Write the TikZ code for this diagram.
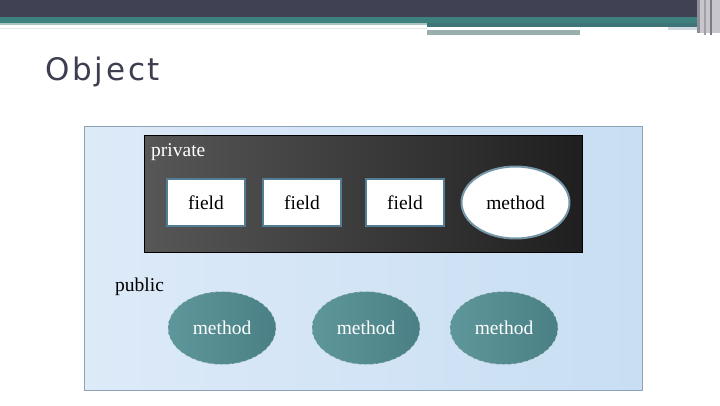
\documentclass[tikz,border=0pt]{standalone}
\usepackage{fontspec}
\setmainfont{Liberation Serif}
\newfontfamily\titlefont{DejaVu Sans}[LetterSpace=9]
\usetikzlibrary{shapes.geometric}
\definecolor{hdrdark}{HTML}{404254}
\definecolor{hdrteal}{HTML}{3D807E}
\definecolor{hdrteal2}{HTML}{3E7478}
\definecolor{hdrlight}{HTML}{A9C3C0}
\definecolor{titlecol}{HTML}{3D3F51}
\definecolor{outerA}{HTML}{DDEAF8}
\definecolor{outerB}{HTML}{C8DEF3}
\definecolor{outerline}{HTML}{8CA3B8}
\definecolor{darkA}{HTML}{575757}
\definecolor{darkB}{HTML}{1F1F1F}
\definecolor{fieldline}{HTML}{527D92}
\definecolor{pubA}{HTML}{5E979B}
\definecolor{pubB}{HTML}{4A8085}
\tikzset{
  txt/.style={font=\fontsize{19.5}{22}\selectfont, inner sep=0pt},
  fieldbox/.style={draw=fieldline, line width=2pt, fill=white, minimum width=78pt, minimum height=47pt, txt},
  privmeth/.style={ellipse, draw=fieldline!80, line width=2pt, fill=white, minimum width=108pt, minimum height=72pt, txt},
  pubmeth/.style={ellipse, left color=pubA, right color=pubB, draw=white!70!pubA, dashed, line width=0.6pt, minimum width=108pt, minimum height=73pt, txt, text=white},
}
\begin{document}
\begin{tikzpicture}[x=1pt,y=-1pt]
\useasboundingbox (0,0) rectangle (720,405);
\fill[white] (0,0) rectangle (720,405);
% header
\fill[hdrdark] (0,0) rectangle (697,17);
\fill[hdrteal] (0,17) rectangle (697,23);
\fill[hdrlight] (0,23) rectangle (427,25);
\fill[hdrteal2] (427,23) rectangle (697,27);
\fill[black!10] (0,28) rectangle (427,29);
\fill[hdrlight!90!black] (427,30) rectangle (580,35);
\fill[white!60!outerline] (668,27) rectangle (697,30);
\fill[white!70!hdrdark] (697,0) rectangle (720,33);
\fill[white!40!hdrdark] (697,0) rectangle (700,33);
\fill[white!50!hdrdark] (704,0) rectangle (706,35);
\fill[white!30!hdrdark] (710,0) rectangle (712,35);
% title
\node[anchor=base west, inner sep=0pt, text=titlecol] (title) at (45,80) {\titlefont\fontsize{31}{34}\selectfont Object};
% outer box
\node[draw=outerline, line width=0.8pt, left color=outerA, right color=outerB, minimum width=558pt, minimum height=264pt, inner sep=0pt] (outer) at (363,258) {};
% private box
\node[draw=black, line width=0.8pt, left color=darkA, right color=darkB, minimum width=438pt, minimum height=117pt, inner sep=0pt] (priv) at (363,193.5) {};
\node[txt, anchor=base west, text=white] (privlbl) at (151,156) {private};
\node[fieldbox] (f1) at (206,202.5) {field};
\node[fieldbox] (f2) at (302,202.5) {field};
\node[fieldbox] (f3) at (405,202.5) {field};
\node[privmeth] (m0) at (515.5,202.5) {method};
% public
\node[txt, anchor=base west] (publbl) at (115,291) {public};
\node[pubmeth] (m1) at (222,328) {method};
\node[pubmeth] (m2) at (366,328) {method};
\node[pubmeth] (m3) at (504,328) {method};
\end{tikzpicture}
\end{document}
